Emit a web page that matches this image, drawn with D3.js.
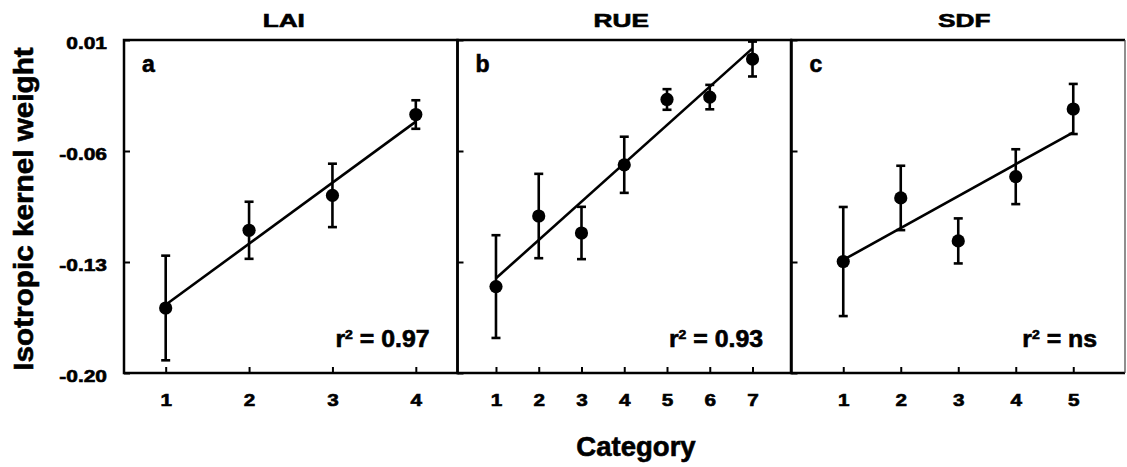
<!DOCTYPE html>
<html>
<head>
<meta charset="utf-8">
<script src="https://cdn.jsdelivr.net/npm/d3@7"></script>
<style>
  html, body { margin: 0; padding: 0; background: #fff; }
  svg { display: block; font-family: "Liberation Sans", Arial, Helvetica, sans-serif; font-weight: bold; }
  svg text { fill: #000; stroke: #000; stroke-width: 0.6px; }
</style>
</head>
<body>
<svg id="chart" width="1127" height="467"></svg>
<script>
// Panel headings and letters
const panelTitles = ["LAI", "RUE", "SDF"];
const panelLetters = ["a", "b", "c"];
const r2Labels = ["0.97", "0.93", "ns"];

// LAI categories: mean kernel weight, standard error, fitted line at first/last category
const laiCategory = [1, 2, 3, 4];
const laiMean = [-0.159, -0.110, -0.088, -0.037];
const laiError = [0.033, 0.018, 0.020, 0.009];
const laiFit = [-0.157, -0.0415];

// RUE categories
const rueCategory = [1, 2, 3, 4, 5, 6, 7];
const rueMean = [-0.1455, -0.101, -0.1117, -0.0687, -0.0275, -0.026, -0.002];
const rueError = [0.0324, 0.0266, 0.0165, 0.0177, 0.0065, 0.0077, 0.011];
const rueFit = [-0.1403, 0.0047];

// SDF categories
const sdfCategory = [1, 2, 3, 4, 5];
const sdfMean = [-0.1297, -0.0896, -0.1167, -0.0762, -0.0335];
const sdfError = [0.0344, 0.0203, 0.0142, 0.0173, 0.0158];
const sdfFit = [-0.1287, -0.0482];

// Shared y axis
const yTickValues = [0.01, -0.06, -0.13, -0.20];
const yTickLabels = ["0.01", "-0.06", "-0.13", "-0.20"];

const panels = [
  { cat: laiCategory, mean: laiMean, err: laiError, fit: laiFit, domain: [0.5, 4.5] },
  { cat: rueCategory, mean: rueMean, err: rueError, fit: rueFit, domain: [0.1, 7.9] },
  { cat: sdfCategory, mean: sdfMean, err: sdfError, fit: sdfFit, domain: [0.1, 5.9] }
];

const svg = d3.select("#chart");
const plotTop = 40, plotBottom = 373;
const lefts = [124, 457.5, 791.5];
const panelW = 333.5;
const titleShift = [-7, -3, 6];
const lineW = 2.6;

const y = d3.scaleLinear().domain([-0.20, 0.01]).range([plotBottom, plotTop]);

panels.forEach((p, i) => {
  const x0 = lefts[i], x1 = x0 + panelW;
  const x = d3.scaleLinear().domain(p.domain).range([x0, x1]);
  const g = svg.append("g");

  // category axis: short inward ticks, labels below
  const xa = g.append("g")
    .attr("transform", `translate(0,${plotBottom})`)
    .call(d3.axisBottom(x).tickValues(p.cat).tickFormat(d3.format("d")).tickSize(-6).tickPadding(21));
  xa.attr("font-family", null).attr("font-size", null);
  xa.select(".domain").remove();
  xa.selectAll(".tick line").attr("stroke", "#000").attr("stroke-width", 2);
  xa.selectAll(".tick text")
    .attr("font-size", 17)
    .attr("transform", "scale(1.22,1)");

  // value axis: inward ticks on every panel, labels on the first only
  const ya = g.append("g")
    .attr("transform", `translate(${x0},0)`)
    .call(d3.axisLeft(y).tickValues(yTickValues).tickSize(-6).tickPadding(0)
      .tickFormat(i === 0 ? (d, k) => yTickLabels[k] : () => ""));
  ya.attr("font-family", null).attr("font-size", null);
  ya.select(".domain").remove();
  ya.selectAll(".tick line").attr("stroke", "#000").attr("stroke-width", 2);
  ya.selectAll(".tick text")
    .attr("font-size", 16.5)
    .attr("transform", "translate(-17,3) scale(1.27,1)");

  // regression line
  g.append("line")
    .attr("x1", x(p.cat[0])).attr("y1", y(p.fit[0]))
    .attr("x2", x(p.cat[p.cat.length - 1])).attr("y2", y(p.fit[1]))
    .attr("stroke", "#000").attr("stroke-width", lineW);

  const pts = p.cat.map((c, k) => ({ c, m: p.mean[k], e: p.err[k] }));

  // error bars with caps
  const eb = g.append("g").attr("stroke", "#000").attr("stroke-width", lineW);
  eb.selectAll("line.v").data(pts).join("line").attr("class", "v")
    .attr("x1", d => x(d.c)).attr("x2", d => x(d.c))
    .attr("y1", d => y(d.m + d.e)).attr("y2", d => y(d.m - d.e));
  eb.selectAll("line.t").data(pts).join("line").attr("class", "t")
    .attr("x1", d => x(d.c) - 4.5).attr("x2", d => x(d.c) + 4.5)
    .attr("y1", d => y(d.m + d.e)).attr("y2", d => y(d.m + d.e));
  eb.selectAll("line.b").data(pts).join("line").attr("class", "b")
    .attr("x1", d => x(d.c) - 4.5).attr("x2", d => x(d.c) + 4.5)
    .attr("y1", d => y(d.m - d.e)).attr("y2", d => y(d.m - d.e));

  // means
  g.selectAll("circle").data(pts).join("circle")
    .attr("cx", d => x(d.c)).attr("cy", d => y(d.m)).attr("r", 6.6)
    .attr("fill", "#000");

  // frame
  g.append("path")
    .attr("d", i < 2
      ? `M${x0},${plotTop}H${x1}V${plotBottom}H${x0}Z`
      : `M${x1},${plotBottom}H${x0}V${plotTop}H${x1}`)
    .attr("fill", "none").attr("stroke", "#000").attr("stroke-width", 2.5);
  if (i === 2) {
    g.append("line").attr("x1", x1).attr("x2", x1).attr("y1", plotTop).attr("y2", plotBottom)
      .attr("stroke", "#444").attr("stroke-width", 1.2);
  }

  // panel title
  g.append("text")
    .attr("transform", `translate(${(x0 + x1) / 2 + titleShift[i]},27) scale(1.38,1)`)
    .attr("text-anchor", "middle").attr("font-size", 19)
    .text(panelTitles[i]);

  // panel letter
  g.append("text")
    .attr("transform", `translate(${x0 + 18},71.5)`)
    .attr("font-size", 23)
    .text(panelLetters[i]);

  // r-squared note
  const r2 = g.append("text")
    .attr("transform", `translate(${x1 - 28},346.5) scale(1.08,1)`)
    .attr("text-anchor", "end").attr("font-size", 23);
  r2.append("tspan").text("r");
  r2.append("tspan").attr("font-size", 13).attr("dy", -8).text("2");
  r2.append("tspan").attr("dy", 8).text(" = " + r2Labels[i]);
});

// axis titles
svg.append("text")
  .attr("transform", "translate(33,209) rotate(-90) scale(1.08,1)")
  .attr("text-anchor", "middle").attr("font-size", 27.5)
  .text("Isotropic kernel weight");

svg.append("text")
  .attr("transform", "translate(636,456) scale(1.02,1)")
  .attr("text-anchor", "middle").attr("font-size", 27)
  .text("Category");
</script>
</body>
</html>
